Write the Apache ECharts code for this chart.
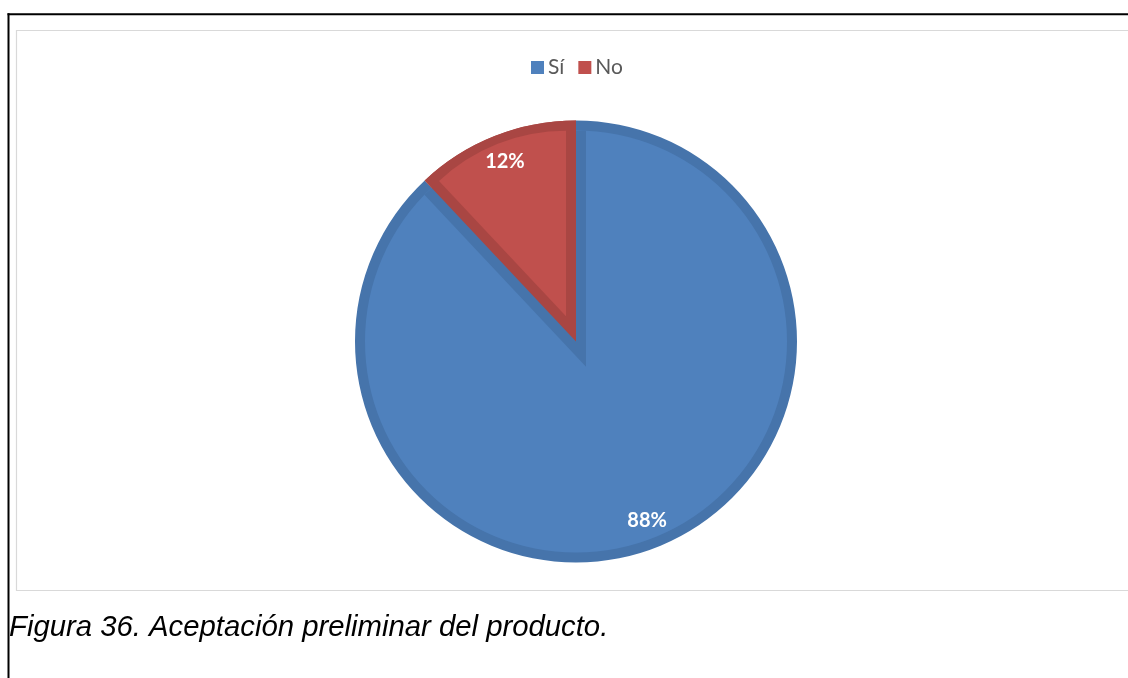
<!DOCTYPE html>
<html>
<head>
<meta charset="utf-8">
<title>Aceptación preliminar del producto</title>
<script src="https://cdn.jsdelivr.net/npm/echarts@6/dist/echarts.min.js"></script>
<style>
  html, body { margin: 0; padding: 0; background: #fff; }
  #chart { width: 1128px; height: 678px; }
</style>
</head>
<body>
<div id="chart"></div>
<script>
// Survey answers: share of respondents (%)
const categories = ['Sí', 'No'];
const values = [88, 12];
const caption = 'Figura 36. Aceptación preliminar del producto.';

// Face colours and the darker bevel edge of each slice
const faceColors = ['#4F81BD', '#C0504D'];
const edgeColors = ['#4674AB', '#A94643'];

const chart = echarts.init(document.getElementById('chart'), null, { renderer: 'canvas' });

// Pie geometry
const C = [576, 341.5];
const R = 221;
const bevel = 10;

// Bevel of the "No" wedge: offset its two straight edges by `bevel`,
// which moves the wedge tip along the bisector.
const total = values.reduce((a, b) => a + b, 0);
const half = (values[1] / total) * Math.PI;       // half-angle of the "No" slice
const shift = bevel / Math.sin(half);
const u = [-Math.sin(half), -Math.cos(half)];     // bisector direction (screen space)
const inner = Math.sqrt((R - bevel) * (R - bevel) - bevel * bevel);
const outerTip = [C[0] - shift * u[0], C[1] - shift * u[1]];
const innerTip = [C[0] + shift * u[0], C[1] + shift * u[1]];
const outerTipRadius = shift * Math.cos(half) + inner;
const innerTipRadius = -shift * Math.cos(half) + inner;

function pie(center, radius, colors, extra) {
  return Object.assign({
    type: 'pie',
    center: center,
    radius: radius,
    startAngle: 90,
    clockwise: true,
    silent: true,
    animation: false,
    avoidLabelOverlap: false,
    label: { show: false },
    labelLine: { show: false },
    emphasis: { disabled: true },
    itemStyle: { borderWidth: 0 },
    data: categories.map((c, i) => ({
      name: c,
      value: values[i],
      itemStyle: { color: colors[i], borderWidth: 0 }
    }))
  }, extra || {});
}

const T = 'rgba(0,0,0,0)';

const option = {
  backgroundColor: '#ffffff',
  title: {
    text: caption,
    left: 9,
    top: 613,
    padding: 0,
    textStyle: {
      fontFamily: 'Liberation Sans',
      fontStyle: 'italic',
      fontWeight: 'normal',
      fontSize: 29.3,
      color: '#000000'
    }
  },
  legend: {
    top: 57,
    left: 531,
    icon: 'rect',
    itemWidth: 13,
    itemHeight: 13,
    itemGap: 14,
    padding: 0,
    selectedMode: false,
    textStyle: { fontFamily: 'Lato', fontSize: 21, color: '#595959', padding: [0, 0, 0, -1] },
    data: categories.map((c, i) => ({ name: c, itemStyle: { color: faceColors[i] } }))
  },
  graphic: [
    // page frame
    { type: 'line', silent: true, shape: { x1: 7.5, y1: 14.3, x2: 1128, y2: 14.3 }, style: { stroke: '#000', lineWidth: 2 } },
    { type: 'line', silent: true, shape: { x1: 8.5, y1: 13.3, x2: 8.5, y2: 678 }, style: { stroke: '#000', lineWidth: 2 } },
    // chart area frame
    { type: 'rect', silent: true, shape: { x: 16.5, y: 30.5, width: 1200, height: 560 }, style: { fill: 'none', stroke: '#D9D9D9', lineWidth: 1.2 } }
  ],
  series: [
    // dark edge of both slices
    pie(C, [0, R], edgeColors),
    // face of "Sí"
    pie(C, [0, R - bevel], [faceColors[0], T]),
    // edge of "Sí" running along the "No" wedge
    pie(outerTip, [0, outerTipRadius], [T, edgeColors[0]]),
    // "No" slice edge, redrawn on top
    pie(C, [0, R], [T, edgeColors[1]]),
    // face of "No"
    pie(innerTip, [0, innerTipRadius], [T, faceColors[1]]),
    // percentage labels
    pie(C, [R * 0.72, R], [T, T], {
      label: {
        show: true,
        position: 'inside',
        formatter: '{d}%',
        color: '#ffffff',
        fontFamily: 'Lato',
        fontWeight: 'bold',
        fontSize: 20
      }
    })
  ]
};

chart.setOption(option);
</script>
</body>
</html>
